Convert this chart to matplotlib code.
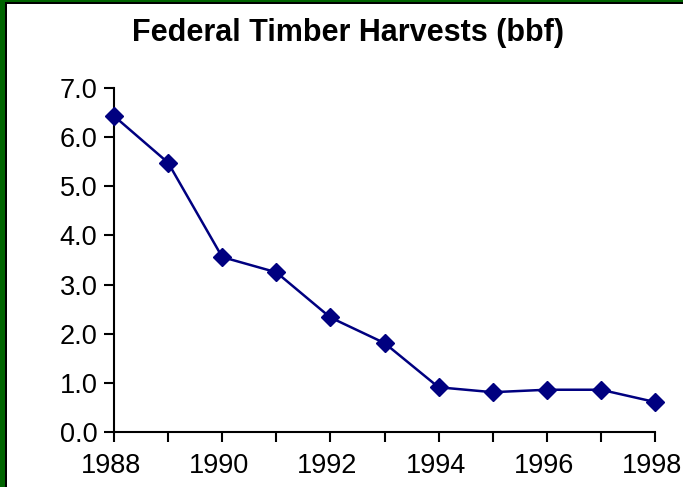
import matplotlib
matplotlib.use("Agg")
import matplotlib.pyplot as plt
from matplotlib.patches import Rectangle
from matplotlib.transforms import ScaledTranslation

years = [1988, 1989, 1990, 1991, 1992, 1993, 1994, 1995, 1996, 1997, 1998]
harvest_bbf = [6.43, 5.48, 3.56, 3.25, 2.33, 1.81, 0.91, 0.81, 0.86, 0.86, 0.61]
x_tick_labels = [1988, 1990, 1992, 1994, 1996, 1998]
y_ticks = [0.0, 1.0, 2.0, 3.0, 4.0, 5.0, 6.0, 7.0]
title = "Federal Timber Harvests (bbf)"

W, H = 683, 487
fig = plt.figure(figsize=(W / 100, H / 100), dpi=100)
fig.patch.set_facecolor("white")
plt.rcParams['font.family'] = ['Liberation Sans', 'DejaVu Sans']

# border (green outer, black inner), cropped on right and bottom
fig.add_artist(Rectangle((0, 0), 1, 1, transform=fig.transFigure,
                         facecolor="#006400", edgecolor="none", zorder=-10))
fig.add_artist(Rectangle((5 / W, -0.1), 1.2, 1 - 2 / H + 0.1, transform=fig.transFigure,
                         facecolor="black", edgecolor="none", zorder=-9))
fig.add_artist(Rectangle((7 / W, -0.1), 1.2, 1 - 4 / H + 0.1, transform=fig.transFigure,
                         facecolor="white", edgecolor="none", zorder=-8))

left, right = 114 / W, 655 / W
bottom, top = 1 - 432 / H, 1 - 88 / H
ax = fig.add_axes([left, bottom, right - left, top - bottom])
ax.set_facecolor("none")

ax.plot(years, harvest_bbf, color="#000080", lw=1.8, marker="D", ms=9.5,
        markerfacecolor="#000080", markeredgecolor="#000080", clip_on=False, zorder=5)

ax.set_xlim(1988, 1998)
ax.set_ylim(0, 7)
ax.set_xticks(years)
ax.set_xticklabels([str(y) if y in x_tick_labels else "" for y in years])
ax.set_yticks(y_ticks)
ax.set_yticklabels([f"{v:.1f}" for v in y_ticks])

for s in ["top", "right"]:
    ax.spines[s].set_visible(False)
for s in ["left", "bottom"]:
    ax.spines[s].set_linewidth(1.5)
    ax.spines[s].set_color("black")

ax.tick_params(axis="both", direction="out", length=7, width=1.5, labelsize=19.5, colors="black")
ax.tick_params(axis="x", pad=8)
ax.tick_params(axis="y", pad=5)

shift = ScaledTranslation(-3 / 100, 0, fig.dpi_scale_trans)
for lbl in ax.get_xticklabels():
    lbl.set_transform(lbl.get_transform() + shift)

fig.text(0.5 * (135 + 562) / W, 1 - 33 / H, title, ha="center", va="center",
         fontsize=22, fontweight="bold")

fig.savefig("out.png", dpi=100)
